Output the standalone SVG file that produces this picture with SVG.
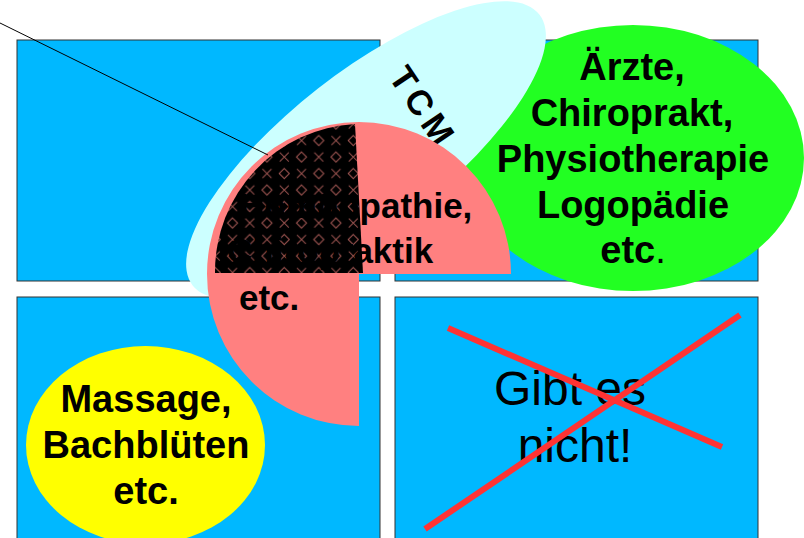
<svg xmlns="http://www.w3.org/2000/svg" width="804" height="538" viewBox="0 0 804 538">
<style>
.box{fill:#00b8ff;stroke:#333;stroke-width:1}
.t{font-family:"Liberation Sans",Arial,sans-serif;font-weight:bold;fill:#000}
.r{font-family:"Liberation Sans",Arial,sans-serif;font-weight:normal;fill:#000}
.cross{stroke:#ff3333;stroke-width:6;fill:none}
</style>
<defs>
<pattern id="hatch" patternUnits="userSpaceOnUse" width="34.5" height="33" patternTransform="translate(327.4,181.75)">
<rect width="34.5" height="33" fill="#000"/>
<g stroke="#b4605c" stroke-width="1" fill="none">
<path d="M8.6,3.25 L13.6,8.25 L8.6,13.25 L3.6,8.25 Z"/>
<path d="M25.9,19.75 L30.9,24.75 L25.9,29.75 L20.9,24.75 Z"/>
<path d="M21.4,3.75 L30.4,12.75 M30.4,3.75 L21.4,12.75"/>
<path d="M4.1,20.25 L13.1,29.25 M13.1,20.25 L4.1,29.25"/>
</g>
</pattern>
</defs>
<rect width="804" height="538" fill="#fff"/>
<g id="box-tl"><rect class="box" x="17" y="40" width="363" height="241"/></g>
<g id="box-tr"><rect class="box" x="395" y="40" width="363" height="241"/></g>
<g id="box-bl"><rect class="box" x="17" y="297" width="363" height="260"/></g>
<g id="box-br"><rect class="box" x="395" y="297" width="363" height="260"/></g>
<g id="yellow"><ellipse cx="145.5" cy="445" rx="119.5" ry="99" fill="#ffff00"/>
<text class="t" font-size="38" text-anchor="middle"><tspan x="146" y="412">Massage,</tspan><tspan x="146" y="458">Bachblüten</tspan><tspan x="146" y="504">etc.</tspan></text></g>
<g id="green"><ellipse cx="633" cy="158" rx="171" ry="133" fill="#22ff22"/></g>
<g id="tcm"><ellipse cx="366" cy="150" rx="220" ry="78" transform="rotate(-38 366 150)" fill="#ccffff"/>
<text class="t" font-size="35" letter-spacing="5" text-anchor="middle" transform="translate(422,106) rotate(56)" x="2" y="12">TCM</text></g>
<g id="green-text"><text class="t" font-size="38" text-anchor="middle"><tspan x="632" y="80">Ärzte,</tspan><tspan x="632" y="126">Chiroprakt,</tspan><tspan x="633" y="172">Physiotherapie</tspan><tspan x="633" y="218">Logopädie</tspan><tspan x="633" y="263">etc<tspan font-weight="normal">.</tspan></tspan></text></g>
<g id="pink"><path d="M359,274 L359,426 A152,152 0 1 1 511,274 Z" fill="#ff8080"/>
<path d="M215,273 A148,148 0 0 1 355,124 L363,273 Z" fill="url(#hatch)"/>
<text class="t" font-size="35"><tspan x="239" y="218">Homöopathie,</tspan><tspan x="227" y="263">Chiropraktik</tspan><tspan x="239" y="310">etc.</tspan></text></g>
<g id="nope"><text class="r" font-size="48" text-anchor="middle"><tspan x="570" y="405">Gibt es</tspan><tspan x="575" y="462">nicht!</tspan></text></g>
<g id="connectors">
<line x1="0" y1="23" x2="268" y2="155" stroke="#000" stroke-width="1"/>
<line class="cross" x1="448" y1="328" x2="722" y2="447"/>
<line class="cross" x1="740" y1="315" x2="425" y2="529"/>
</g>
</svg>
